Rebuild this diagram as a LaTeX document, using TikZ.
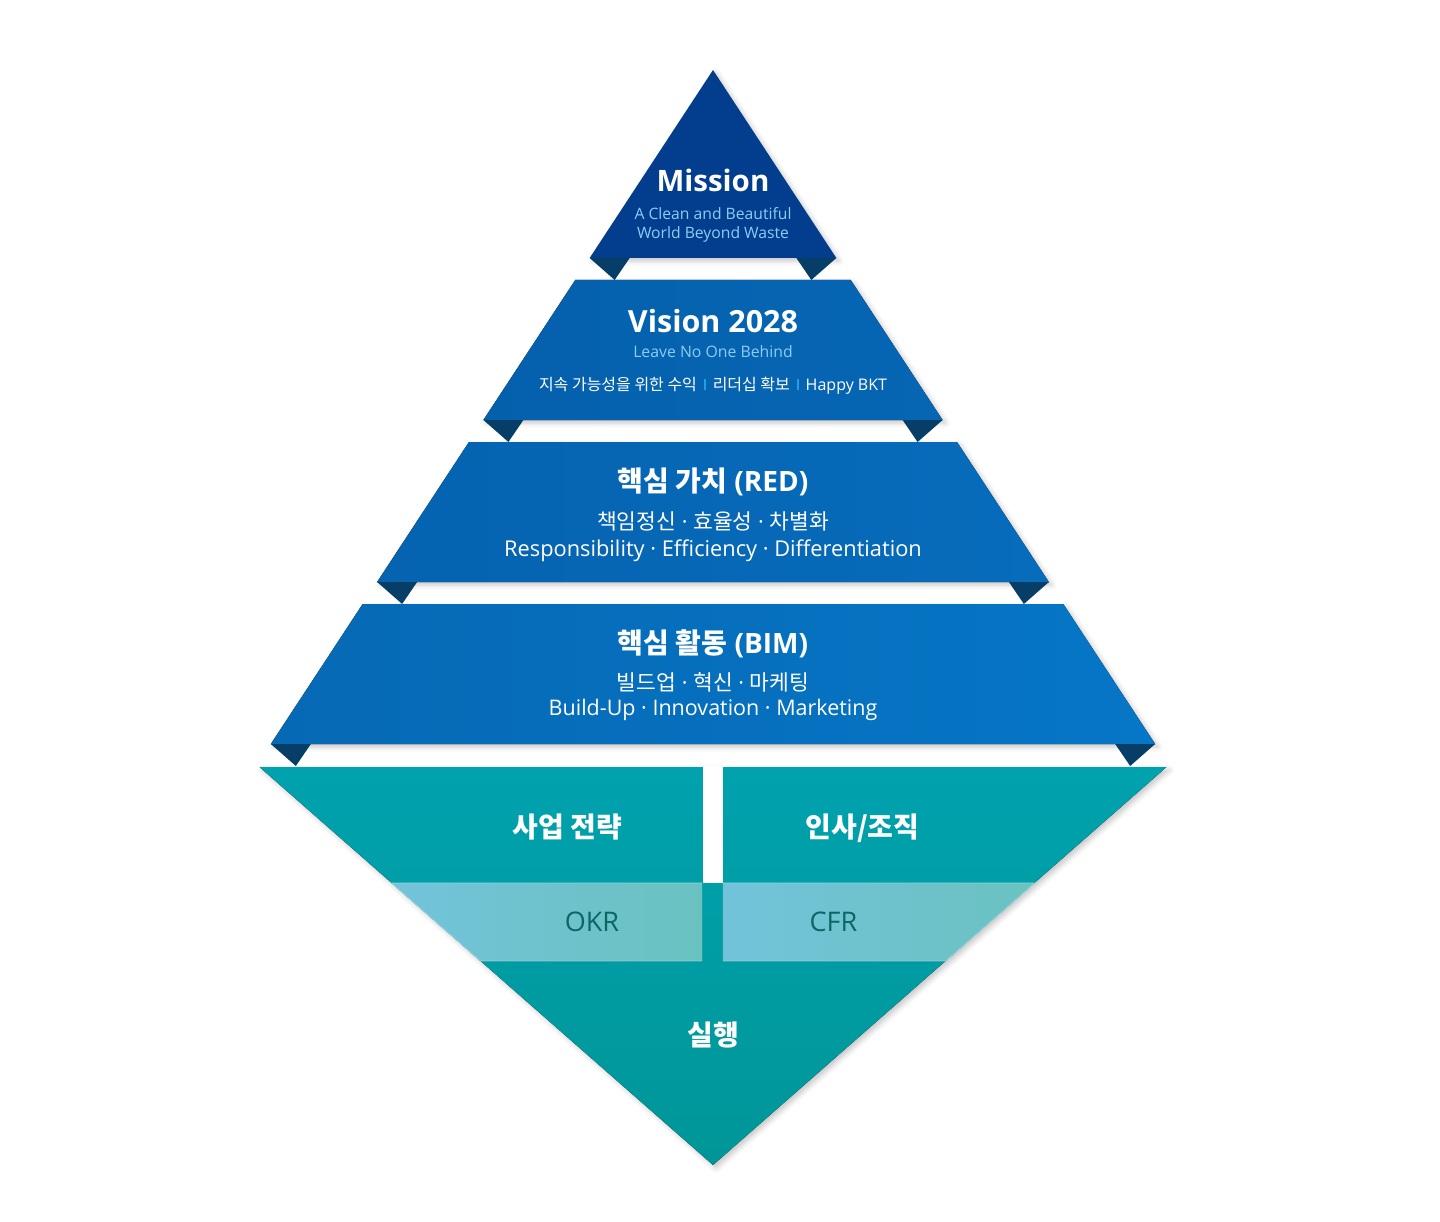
\documentclass[tikz,border=0pt]{standalone}
\usepackage{fontspec}
\setmainfont{Open Sans}
\newfontfamily\kr{Noto Sans CJK KR}
\usetikzlibrary{shadows.blur}
\definecolor{misblue}{RGB}{2,61,142}
\definecolor{visA}{RGB}{5,96,172}
\definecolor{visB}{RGB}{6,102,180}
\definecolor{redA}{RGB}{5,99,176}
\definecolor{redB}{RGB}{7,108,188}
\definecolor{bimA}{RGB}{6,105,181}
\definecolor{bimB}{RGB}{6,118,198}
\definecolor{tabblue}{RGB}{6,62,103}
\definecolor{tealA}{RGB}{0,162,174}
\definecolor{tealB}{RGB}{0,150,152}
\definecolor{bandA}{RGB}{114,195,218}
\definecolor{bandB}{RGB}{106,194,192}
\definecolor{bandline}{RGB}{140,212,222}
\definecolor{skytext}{RGB}{140,205,245}
\definecolor{sepblue}{RGB}{30,160,225}
\definecolor{okrtext}{RGB}{12,102,104}
\newcommand\sepbar{\hspace{7pt}\textcolor{sepblue}{\rule[0pt]{1.8pt}{11pt}}\hspace{7pt}}
\newcommand\mdot{{\rmfamily\fontsize{21.5}{24}\selectfont{} · }}
\begin{document}
\begin{tikzpicture}[x=1pt,y=-1pt,line join=round,
  lvshadow/.style={blur shadow={shadow xshift=3pt,shadow yshift=-3pt,shadow opacity=22,shadow blur radius=5pt}},
  title/.style={anchor=base,text=white,font=\bfseries\fontsize{28}{32}\selectfont},
  note/.style={anchor=base,text=skytext,font=\fontsize{15.7}{18}\selectfont},
  sub/.style={anchor=base,text=white,font=\fontsize{21.8}{24}\selectfont},
  ksub/.style={sub,font=\kr\fontsize{21.5}{24}\selectfont},
  band/.style={anchor=base,text=okrtext,font=\fontsize{27}{32}\selectfont}]
\useasboundingbox (0,0) rectangle (1440,1222);
\def\cx{713} % axis of the pyramid
\def\k{0.656} % slope of the blue sides
\def\m{1.1395} % slope of the teal sides
% blue levels
\fill[lvshadow,misblue] (\cx,70) -- ({\cx+\k*188},258) -- ({\cx-\k*188},258) -- cycle;
\foreach \ytop/\ybot/\ca/\cb in {280/420/visA/visB,442/582/redA/redB,604/744/bimA/bimB}
  \fill[lvshadow,left color=\ca,right color=\cb] ({\cx-\k*(\ytop-70)},\ytop) -- ({\cx+\k*(\ytop-70)},\ytop)
    -- ({\cx+\k*(\ybot-70)},\ybot) -- ({\cx-\k*(\ybot-70)},\ybot) -- cycle;
% folded tabs
\foreach \ybot in {258,420,582,744}{
  \fill[tabblue] ({\cx-\k*(\ybot-70)},\ybot) -- ++(40,0) -- ++(-15,22) -- cycle;
  \fill[tabblue] ({\cx+\k*(\ybot-70)},\ybot) -- ++(-40,0) -- ++(15,22) -- cycle;
}
% teal part
\fill[lvshadow,top color=tealA,bottom color=tealB] (259.5,767) -- (1166.5,767) -- (\cx,1165) -- cycle;
\fill[white] (702.7,766) rectangle (723.3,883);
\fill[left color=bandA,right color=bandB,draw=bandline,line width=0.8pt] ({259.5+\m*116},883) -- (701.7,883) -- (701.7,961) -- ({259.5+\m*194},961) -- cycle;
\fill[left color=bandA,right color=bandB,draw=bandline,line width=0.8pt] (723.3,883) -- ({1166.5-\m*116},883) -- ({1166.5-\m*194},961) -- (723.3,961) -- cycle;
\path
(\cx,192) node[title,font=\bfseries\fontsize{29.5}{32}\selectfont] (mission) {Mission}
(\cx,219.5) node[note] (missionA) {A Clean and Beautiful}
(\cx,238.5) node[note] (missionB) {World Beyond Waste}
(\cx,333) node[title,font=\bfseries\fontsize{30.5}{34}\selectfont] (vision) {Vision 2028}
(\cx,357.3) node[note,font=\fontsize{15.8}{20}\selectfont] (visionA) {Leave No One Behind}
(\cx,390) node[sub,font=\fontsize{16}{20}\selectfont] (visionB) {{\kr 지속 가능성을 위한 수익}\sepbar{\kr 리더십 확보}\sepbar Happy BKT}
(\cx,491) node[title] (red) {{\kr 핵심 가치} (RED)}
(\cx,529.5) node[ksub] (redA) {책임정신\mdot 효율성\mdot 차별화}
(\cx,556) node[sub] (redB) {Responsibility · Efficiency · Differentiation}
(\cx,653) node[title] (bim) {{\kr 핵심 활동} (BIM)}
(\cx,690) node[ksub] (bimA) {빌드업\mdot 혁신\mdot 마케팅}
(\cx,715) node[sub,font=\fontsize{21.5}{24}\selectfont] (bimB) {Build-Up · Innovation · Marketing}
(567.5,837) node[title,font=\kr\bfseries\fontsize{28}{32}\selectfont] (biz) {사업 전략}
(862.5,837) node[title,font=\kr\bfseries\fontsize{28}{32}\selectfont] (hr) {인사/조직}
(592,931) node[band] (okr) {OKR}
(833.5,931) node[band] (cfr) {CFR}
(\cx,1045) node[title,font=\kr\bfseries\fontsize{28}{32}\selectfont] (run) {실행};
\end{tikzpicture}
\end{document}
